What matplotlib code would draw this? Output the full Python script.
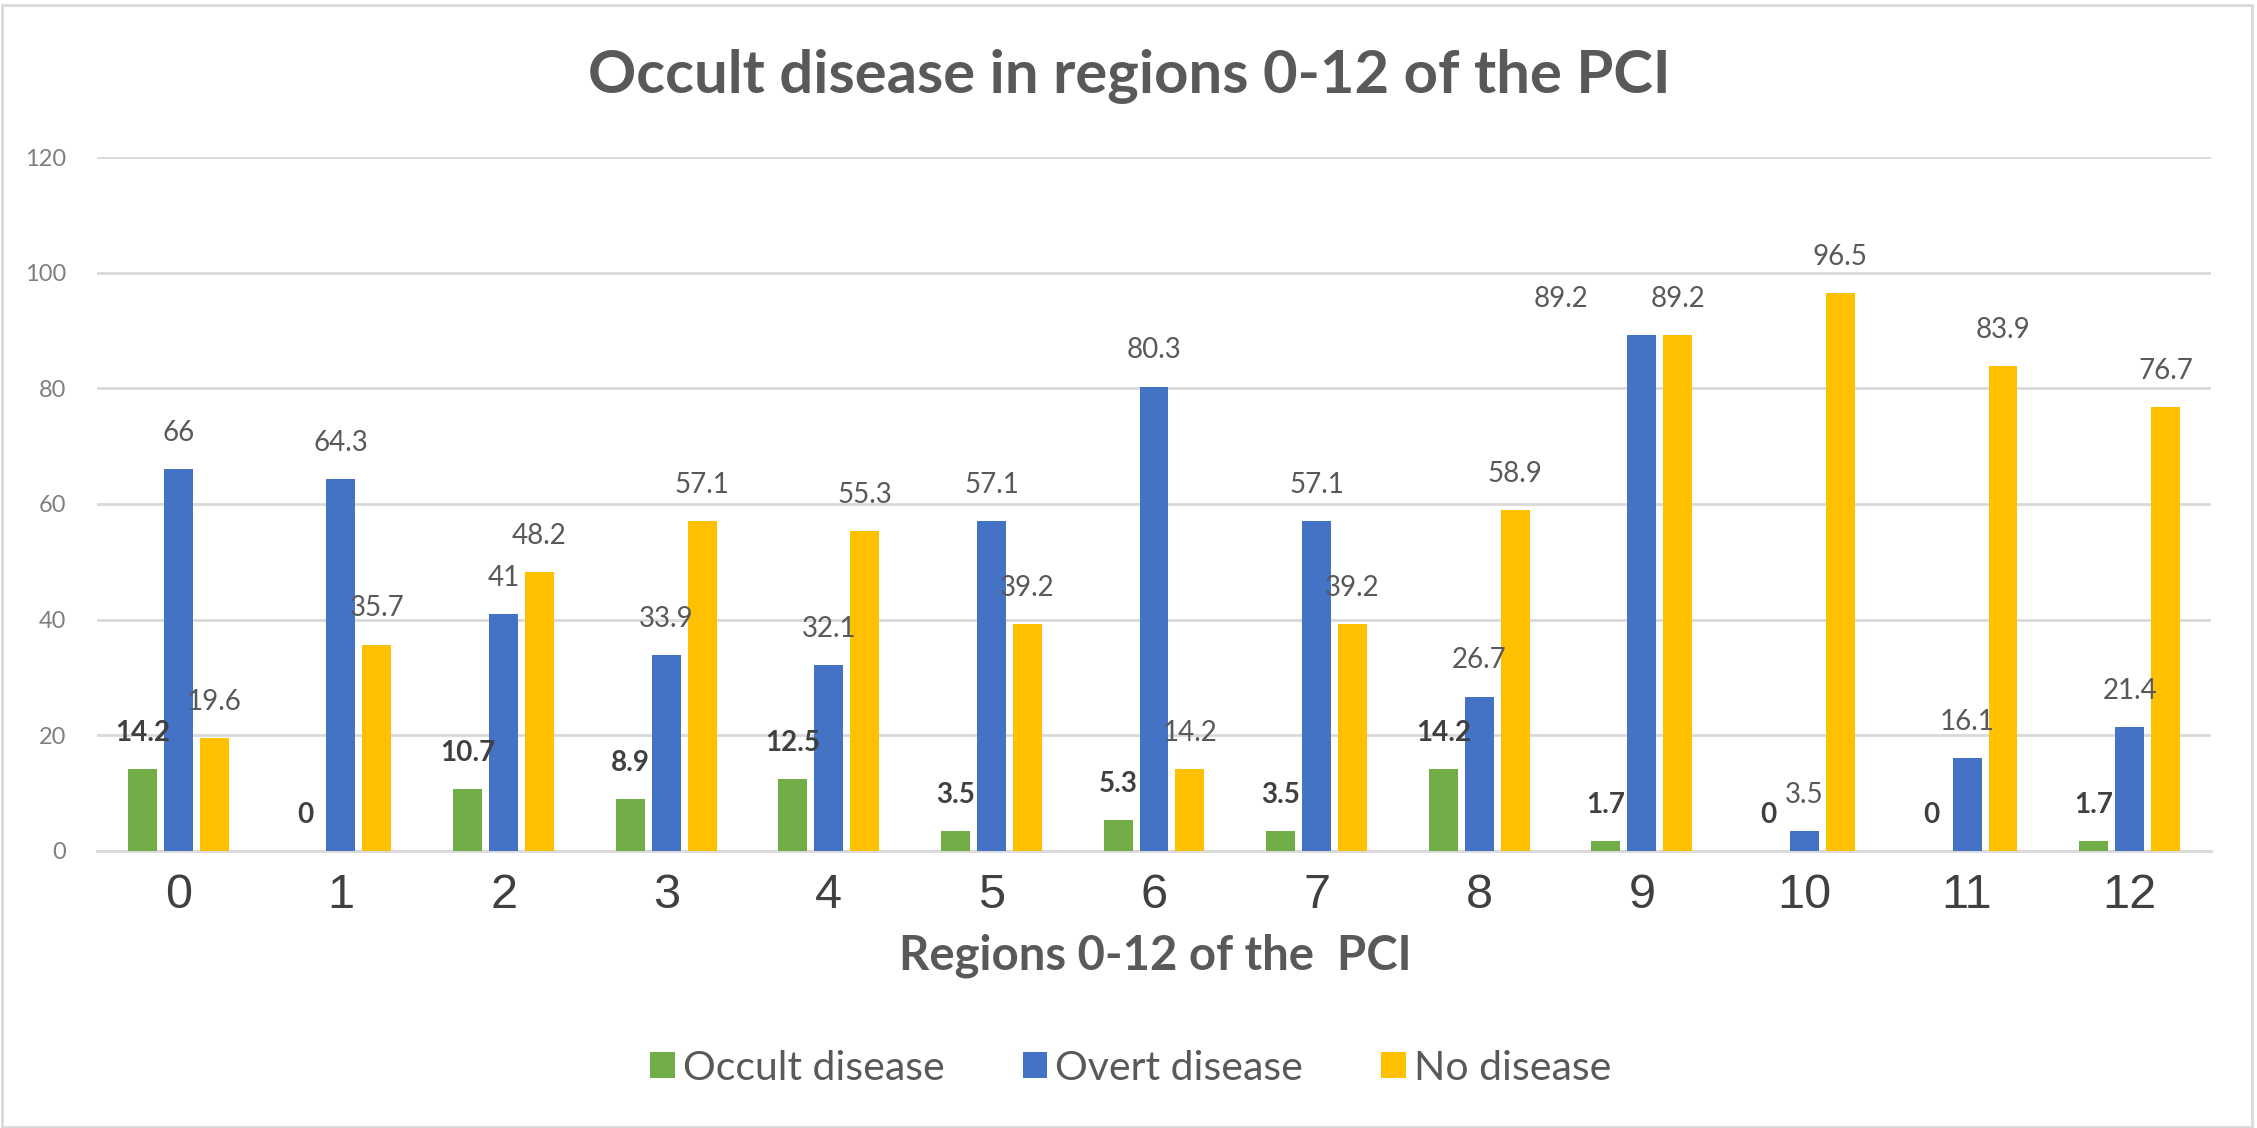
import numpy as np
import matplotlib.pyplot as plt
from matplotlib.patches import Rectangle

# chart data
regions = [str(i) for i in range(13)]
occult = [14.2, 0, 10.7, 8.9, 12.5, 3.5, 5.3, 3.5, 14.2, 1.7, 0, 0, 1.7]
overt = [66, 64.3, 41, 33.9, 32.1, 57.1, 80.3, 57.1, 26.7, 89.2, 3.5, 16.1, 21.4]
no_disease = [19.6, 35.7, 48.2, 57.1, 55.3, 39.2, 14.2, 39.2, 58.9, 89.2, 96.5, 83.9, 76.7]
series_names = ['Occult disease', 'Overt disease', 'No disease']
y_ticks = [0, 20, 40, 60, 80, 100, 120]

colors = ['#70AD47', '#4472C4', '#FFC000']
text_gray = '#595959'

fig = plt.figure(figsize=(22.57, 11.28), dpi=100)
ax = fig.add_axes([0.043, 0.2456, 0.9366, 0.6152])

x = np.arange(len(regions))
width = 0.178
step = 0.221

# draw grouped bars
for i, (vals, name, col) in enumerate(zip([occult, overt, no_disease], series_names, colors)):
    pos = x + (i - 1) * step
    ax.bar(pos, vals, width=width, color=col, label=name, zorder=3)
    for j, (px, v) in enumerate(zip(pos, vals)):
        dx = 0
        # blue label in region 9 is pushed left by excel to avoid overlap
        if i == 1 and j == 9:
            dx = -58
        ax.annotate(f'{v:g}', (px, v), xytext=(dx, 26), textcoords='offset points',
                    ha='center', va='center', fontsize=20, family='Lato',
                    fontweight='bold' if i == 0 else 'normal',
                    color='#404040' if i == 0 else text_gray, zorder=4)

ax.set_xlim(-0.5, 12.5)
ax.set_ylim(0, 120)
ax.set_yticks(y_ticks)
ax.set_yticklabels([str(t) for t in y_ticks], fontsize=17, family='Lato', color='#7F7F7F')
ax.set_xticks(x)
ax.set_xticklabels(regions, fontsize=35, family='Liberation Sans', color='#404040')
ax.tick_params(axis='both', length=0)
ax.tick_params(axis='x', pad=16)
ax.tick_params(axis='y', pad=22)
ax.yaxis.grid(True, color='#D9D9D9', linewidth=2, zorder=0)
for side in ['top', 'right', 'left']:
    ax.spines[side].set_visible(False)
ax.spines['bottom'].set_color('#D9D9D9')
ax.spines['bottom'].set_linewidth(2)

fig.text(0.5005, 0.932, 'Occult disease in regions 0-12 of the PCI', ha='center', va='center',
         fontsize=43, fontweight='bold', family='Lato', color=text_gray)
fig.text(0.512, 0.153, 'Regions 0-12 of the  PCI', ha='center', va='center',
         fontsize=34, fontweight='bold', family='Lato', color=text_gray)

leg = fig.legend(loc='center', bbox_to_anchor=(0.501, 0.053), ncol=3, frameon=False,
                 prop={'family': 'Lato', 'size': 29.5}, handlelength=0.6, handleheight=0.6,
                 handletextpad=0.2, columnspacing=1.9)
for t in leg.get_texts():
    t.set_color(text_gray)

# chart area border
fig.patches.append(Rectangle((0.001, 0.001), 0.997, 0.995, transform=fig.transFigure,
                             fill=False, edgecolor='#D9D9D9', linewidth=2))

fig.savefig('out.png', dpi=100)
